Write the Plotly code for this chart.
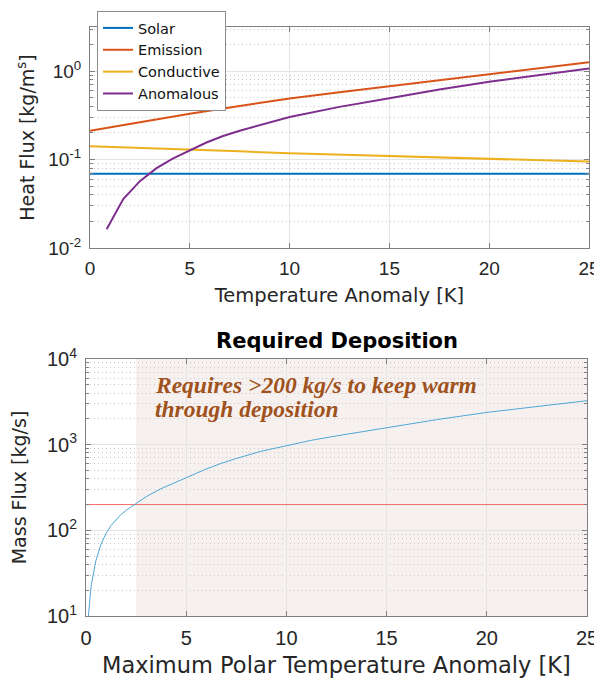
import plotly.graph_objects as go

# ---------------- data: top panel (heat flux) ----------------
x_top = [0, 2.5, 5, 7.5, 10, 12.5, 15, 17.5, 20, 22.5, 25]
solar = [0.069, 0.069, 0.069, 0.069, 0.069, 0.069, 0.069, 0.069, 0.069, 0.069, 0.069]
emission = [0.212, 0.265, 0.331, 0.405, 0.49, 0.578, 0.676, 0.795, 0.925, 1.08, 1.26]
conductive = [0.1415, 0.136, 0.130, 0.124, 0.118, 0.114, 0.110, 0.106, 0.102, 0.098, 0.095]
x_anom = [0.833, 1.667, 2.5, 3.333, 4.167, 5, 5.833, 6.667, 7.5, 10, 12.5, 15, 17.5, 20, 22.5, 25]
anomalous = [0.0163, 0.0357, 0.057, 0.080, 0.103, 0.128, 0.156, 0.185, 0.212, 0.303, 0.395, 0.495, 0.62, 0.76, 0.91, 1.07]

# ---------------- data: bottom panel (mass flux) ----------------
x_dep = [0.06, 0.12, 0.25, 0.5, 0.75, 1.0, 1.25, 1.5, 1.75, 2.0, 2.4, 3.0, 3.7, 5.0, 6.0,
         6.75, 7.5, 8.75, 10, 11.25, 12.5, 15, 17.5, 20, 22.5, 25]
mass_flux = [5, 10, 22, 45, 69, 92, 114, 134, 153, 171, 200, 247, 303, 416, 520,
             605, 690, 839, 980, 1125, 1265, 1585, 1960, 2380, 2810, 3260]
required = 200
shade_start = 2.5

x_ticks = [0, 5, 10, 15, 20, 25]
top_yticks = [0.01, 0.1, 1]
top_yticktext = ["10<sup>-2</sup>", "10<sup>-1</sup>", "10<sup>0</sup>"]
bot_yticks = [10, 100, 1000, 10000]
bot_yticktext = ["10<sup>1</sup>", "10<sup>2</sup>", "10<sup>3</sup>", "10<sup>4</sup>"]


def minor_vals(lo_exp, hi_exp):
    return [m * 10 ** e for e in range(lo_exp, hi_exp + 1) for m in range(2, 10)]


# the page body adds an 8px offset; work in reference pixel coordinates
OFF = 8
W, H = 602 - OFF, 678 - OFF


def fx(px):
    return (px - OFF) / W


def fy(py):
    return 1 - (py - OFF) / H


TICKFONT = "Liberation Sans, Arial, sans-serif"
TEXTFONT = "DejaVu Sans, Verdana, sans-serif"
AX = "#808080"
GRID = "#e4e4e4"
MINOR = "#c9c9c9"
TXT = "#262626"

fig = go.Figure()

fig.add_trace(go.Scatter(x=x_top, y=solar, name="Solar", mode="lines",
                         line=dict(color="#0072BD", width=2), xaxis="x", yaxis="y"))
fig.add_trace(go.Scatter(x=x_top, y=emission, name="Emission", mode="lines",
                         line=dict(color="#D95319", width=2), xaxis="x", yaxis="y"))
fig.add_trace(go.Scatter(x=x_top, y=conductive, name="Conductive", mode="lines",
                         line=dict(color="#EDB120", width=2), xaxis="x", yaxis="y"))
fig.add_trace(go.Scatter(x=x_anom, y=anomalous, name="Anomalous", mode="lines",
                         line=dict(color="#7E2F8E", width=2), xaxis="x", yaxis="y"))

fig.add_trace(go.Scatter(x=[0, 25], y=[required, required], mode="lines", showlegend=False,
                         line=dict(color="#F36B6B", width=1), xaxis="x2", yaxis="y2"))
fig.add_trace(go.Scatter(x=x_dep, y=mass_flux, mode="lines", showlegend=False,
                         line=dict(color="#4FA6D8", width=1), xaxis="x2", yaxis="y2"))

fig.add_shape(type="rect", xref="x2", yref="y2 domain", x0=shade_start, x1=25, y0=0, y1=1,
              fillcolor="#f6f1ee", line=dict(width=0), layer="below")


def xaxis_common(domain, anchor, title, tsize, fsize, lstand, standoff):
    return dict(domain=domain, anchor=anchor, range=[0, 25], tickvals=x_ticks,
                showline=True, linecolor=AX, linewidth=1, mirror="ticks",
                ticks="inside", ticklen=5, tickcolor=AX,
                showgrid=True, gridcolor=GRID, gridwidth=1, zeroline=False,
                tickfont=dict(size=fsize, color=TXT, family=TICKFONT),
                ticklabelstandoff=lstand,
                title=dict(text=title, font=dict(size=tsize, color=TXT, family=TEXTFONT),
                           standoff=standoff),
                automargin=False)


def yaxis_common(domain, anchor, rng, vals, text, minors, title, tsize, fsize, standoff):
    return dict(domain=domain, anchor=anchor, type="log", range=rng,
                tickmode="array", tickvals=vals, ticktext=text,
                showline=True, linecolor=AX, linewidth=1, mirror="ticks",
                ticks="inside", ticklen=5, tickcolor=AX,
                showgrid=True, gridcolor=GRID, gridwidth=1, zeroline=False,
                minor=dict(tickmode="array", tickvals=minors, ticks="inside", ticklen=3,
                           tickcolor=AX, showgrid=True, gridcolor=MINOR, griddash="1px,3px",
                           gridwidth=1),
                tickfont=dict(size=fsize, color=TXT, family=TICKFONT),
                ticklabelstandoff=4,
                title=dict(text=title, font=dict(size=tsize, color=TXT, family=TEXTFONT),
                           standoff=standoff),
                automargin=False)


fig.update_layout(
    width=W, height=H,
    margin=dict(l=0, r=0, t=0, b=0),
    paper_bgcolor="white", plot_bgcolor="white",
    font=dict(family=TEXTFONT, color=TXT),
    xaxis=xaxis_common([fx(90), fx(589)], "y", "Temperature Anomaly [K]", 19.5, 19, 3, 10),
    yaxis=yaxis_common([fy(248), fy(27)], "x", [-2, 0.5], top_yticks, top_yticktext,
                       minor_vals(-2, 0), "Heat Flux [kg/m<sup>s</sup>]", 19, 19, 8),
    xaxis2=xaxis_common([fx(86), fx(587)], "y2", "Maximum Polar Temperature Anomaly [K]", 22.5, 20, 4, 11),
    yaxis2=yaxis_common([fy(616), fy(359)], "x2", [1, 4], bot_yticks, bot_yticktext,
                        minor_vals(1, 3), "Mass Flux [kg/s]", 19, 20, 16),
    legend=dict(x=fx(97), y=fy(11), xanchor="left", yanchor="top",
                bgcolor="white", bordercolor="#8c8c8c", borderwidth=1,
                font=dict(size=14.5, color="#111111", family=TEXTFONT),
                itemwidth=30, tracegroupgap=0),
    showlegend=True,
)

fig.add_annotation(text="<b>Required Deposition</b>", xref="paper", yref="paper",
                   x=fx(336.5), y=fy(341), xanchor="center", yanchor="middle",
                   showarrow=False, font=dict(size=21, color="#000000", family=TEXTFONT))

ANN_FONT = dict(family="Liberation Serif, Times New Roman, serif", size=23.5, color="#a0521d")
fig.add_annotation(text="<b><i>Requires >200 kg/s to keep warm</i></b>", xref="paper", yref="paper",
                   x=fx(153), y=fy(385), xanchor="left", yanchor="middle",
                   showarrow=False, font=ANN_FONT)
fig.add_annotation(text="<b><i>through deposition</i></b>", xref="paper", yref="paper",
                   x=fx(153), y=fy(409), xanchor="left", yanchor="middle",
                   showarrow=False, font=ANN_FONT)

fig.write_html("out.html")
